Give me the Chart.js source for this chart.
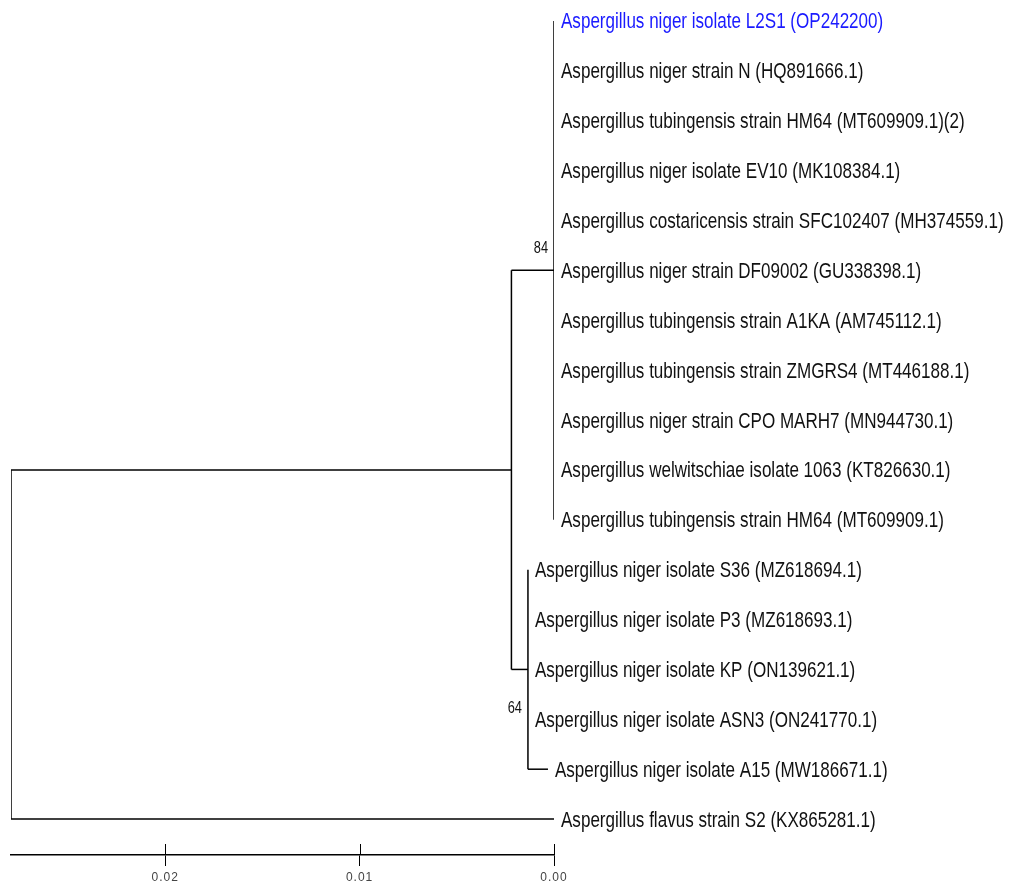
<!DOCTYPE html>
<html>
<head>
<meta charset="utf-8">
<script src="https://cdn.jsdelivr.net/npm/chart.js@4.4.0/dist/chart.umd.min.js"></script>
<style>
  body { margin: 0; background: #fff; }
  canvas { display: block; }
</style>
</head>
<body>
<canvas id="tree" width="1009" height="881"></canvas>
<script>
// tips, top to bottom
const taxa = [
  "Aspergillus niger isolate L2S1 (OP242200)",
  "Aspergillus niger strain N (HQ891666.1)",
  "Aspergillus tubingensis strain HM64 (MT609909.1)(2)",
  "Aspergillus niger isolate EV10 (MK108384.1)",
  "Aspergillus costaricensis strain SFC102407 (MH374559.1)",
  "Aspergillus niger strain DF09002 (GU338398.1)",
  "Aspergillus tubingensis strain A1KA (AM745112.1)",
  "Aspergillus tubingensis strain ZMGRS4 (MT446188.1)",
  "Aspergillus niger strain CPO MARH7 (MN944730.1)",
  "Aspergillus welwitschiae isolate 1063 (KT826630.1)",
  "Aspergillus tubingensis strain HM64 (MT609909.1)",
  "Aspergillus niger isolate S36 (MZ618694.1)",
  "Aspergillus niger isolate P3 (MZ618693.1)",
  "Aspergillus niger isolate KP (ON139621.1)",
  "Aspergillus niger isolate ASN3 (ON241770.1)",
  "Aspergillus niger isolate A15 (MW186671.1)",
  "Aspergillus flavus strain S2 (KX865281.1)"
];
// position of each tip on the scale (distance back from 0.00)
const tipDepth = [0, 0, 0, 0, 0, 0, 0, 0, 0, 0, 0, 0.00134, 0.00134, 0.00134, 0.00134, 0.00031, 0];
const highlightTaxon = 0;

// internal nodes
const nodeNames = ["root", "A", "n84", "n64"];
const nodeDepth = [0.02793, 0.00219, 0, 0.00134];
const nodeChildren = [
  ["A", 16],
  ["n84", "n64"],
  [0, 1, 2, 3, 4, 5, 6, 7, 8, 9, 10],
  [11, 12, 13, 14, 15]
];
const bootstrap = ["", "", "84", "64"];

const scaleTicks = [0, 0.01, 0.02];

// ---- layout of the tree (rows from the tips, nodes at midpoint of children) ----
function childPos(c) {
  if (typeof c === "number") return { x: tipDepth[c], y: c };
  const k = nodeNames.indexOf(c);
  return { x: nodeDepth[k], y: nodeRow(k) };
}
function nodeRow(k) {
  const ch = nodeChildren[k];
  return (childPos(ch[0]).y + childPos(ch[ch.length - 1]).y) / 2;
}

const segments = [];
nodeNames.forEach(function(name, k) {
  const ch = nodeChildren[k];
  const first = childPos(ch[0]), last = childPos(ch[ch.length - 1]);
  segments.push([{ x: nodeDepth[k], y: first.y }, { x: nodeDepth[k], y: last.y }]);
  ch.forEach(function(c) {
    const p = childPos(c);
    if (p.x !== nodeDepth[k]) segments.push([{ x: nodeDepth[k], y: p.y }, { x: p.x, y: p.y }]);
  });
});

const datasets = segments.map(function(seg) {
  return {
    data: seg,
    showLine: true,
    borderColor: "#000",
    borderWidth: 1.5,
    pointRadius: 0,
    fill: false
  };
});

const labelPlugin = {
  id: "tipLabels",
  beforeDraw(chart) {
    chart.ctx.letterSpacing = "1px";   // spaced-out scale numbers
  },
  beforeDatasetsDraw(chart) {
    chart.ctx.letterSpacing = "0px";
  },
  afterDatasetsDraw(chart) {
    const ctx = chart.ctx, xs = chart.scales.x, ys = chart.scales.y;
    taxa.forEach(function(name, i) {
      const px = xs.getPixelForValue(tipDepth[i]) + 7;
      const py = ys.getPixelForValue(i) + 7.5;
      ctx.save();
      ctx.translate(px, py);
      ctx.scale(0.775, 1);
      ctx.font = '22px "Liberation Sans", Arial, sans-serif';
      ctx.fillStyle = i === highlightTaxon ? "#1a1aff" : "#111";
      ctx.textAlign = "left";
      ctx.textBaseline = "alphabetic";
      ctx.fillText(name, 0, 0);
      ctx.restore();
    });
    // bootstrap values
    nodeNames.forEach(function(name, k) {
      if (!bootstrap[k]) return;
      const px = xs.getPixelForValue(nodeDepth[k]);
      const py = ys.getPixelForValue(nodeRow(k));
      const below = name === "n64";
      ctx.save();
      ctx.translate(px - 6, below ? py + 44 : py - 17);
      ctx.scale(0.8, 1);
      ctx.font = '16px "Liberation Sans", Arial, sans-serif';
      ctx.fillStyle = "#111";
      ctx.textAlign = "right";
      ctx.fillText(bootstrap[k], 0, 0);
      ctx.restore();
    });
  },
  afterDraw(chart) {
    // upper half of the scale bar ticks
    const ctx = chart.ctx, xs = chart.scales.x;
    ctx.save();
    ctx.strokeStyle = "#000";
    ctx.lineWidth = 1;
    xs.ticks.forEach(function(t) {
      const px = Math.round(xs.getPixelForValue(t.value)) + 0.5;
      ctx.beginPath();
      ctx.moveTo(px, xs.top - 11);
      ctx.lineTo(px, xs.top);
      ctx.stroke();
    });
    ctx.restore();
  }
};

new Chart("tree", {
  type: "scatter",
  data: { datasets: datasets },
  options: {
    responsive: false,
    animation: false,
    devicePixelRatio: 1,
    layout: { padding: { left: 11, right: 455, top: 1, bottom: 0 } },
    plugins: { legend: { display: false }, tooltip: { enabled: false } },
    scales: {
      x: {
        type: "linear",
        reverse: true,
        min: 0,
        max: 0.02793,
        afterBuildTicks: function(scale) {
          scale.ticks = scaleTicks.map(function(v) { return { value: v }; });
        },
        afterFit: function(scale) {
          scale.height = 26;
        },
        border: { display: true, color: "#000", width: 1.5 },
        grid: { display: true, drawOnChartArea: false, color: "#000", tickLength: 11, lineWidth: 1 },
        ticks: {
          padding: 6,
          color: "#444",
          font: { family: "Liberation Sans", size: 12, lineHeight: 1 },
          callback: function(v) { return Number(v).toFixed(2); }
        }
      },
      y: {
        type: "linear",
        display: false,
        reverse: true,
        min: -0.4,
        max: 16.72
      }
    }
  },
  plugins: [labelPlugin]
});
</script>
</body>
</html>
